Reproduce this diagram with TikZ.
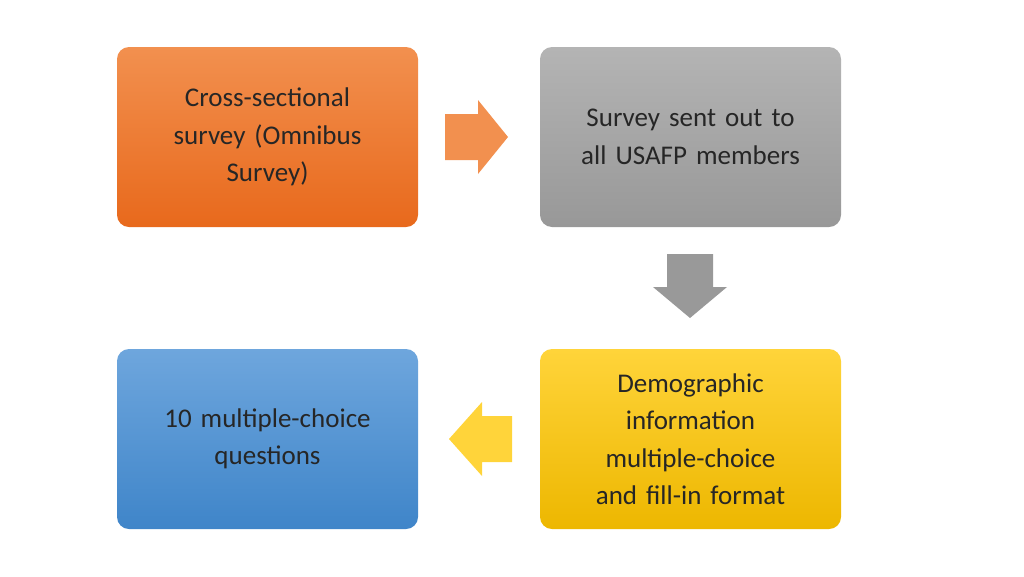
\documentclass[tikz,border=0pt]{standalone}
\usepackage{fontspec}
\setmainfont{Carlito}
\usetikzlibrary{positioning}
\definecolor{orangeA}{HTML}{F2904F}
\definecolor{orangeB}{HTML}{E8691C}
\definecolor{grayA}{HTML}{B4B4B4}
\definecolor{grayB}{HTML}{989898}
\definecolor{blueA}{HTML}{6EA6DD}
\definecolor{blueB}{HTML}{3F85C9}
\definecolor{yellowA}{HTML}{FFD43A}
\definecolor{yellowB}{HTML}{EDB700}
\tikzset{
  stepbox/.style={rounded corners=12pt,minimum width=301pt,minimum height=180pt,
    align=center,text width=270pt,font=\fontsize{27}{37.5}\selectfont,text=black!85},
}
\begin{document}
\begin{tikzpicture}[x=1pt,y=-1pt]
\useasboundingbox (0,0) rectangle (1024,576);
\node[stepbox,top color=orangeA,bottom color=orangeB] (cross) at (267.5,137) {Cross-sectional\\survey (Omnibus\\Survey)};
\node[stepbox,top color=grayA,bottom color=grayB] (sent) at (690.5,137) {Survey sent out to\\all USAFP members};
\node[stepbox,top color=yellowA,bottom color=yellowB] (demo) at (690.5,439) {Demographic\\information\\multiple-choice\\and fill-in format};
\node[stepbox,top color=blueA,bottom color=blueB] (ten) at (267.5,439) {10 multiple-choice\\questions};
% block arrows
\fill[orangeA] (445,114)--(478,114)--(478,100)--(508,137)--(478,174)--(478,160)--(445,160)--cycle;
\fill[grayA!85!black] (667,254)--(713,254)--(713,287)--(727,287)--(690,318)--(653,287)--(667,287)--cycle;
\fill[yellowA] (512,416)--(482,416)--(482,402)--(449,439)--(482,476)--(482,462)--(512,462)--cycle;
\end{tikzpicture}
\end{document}
